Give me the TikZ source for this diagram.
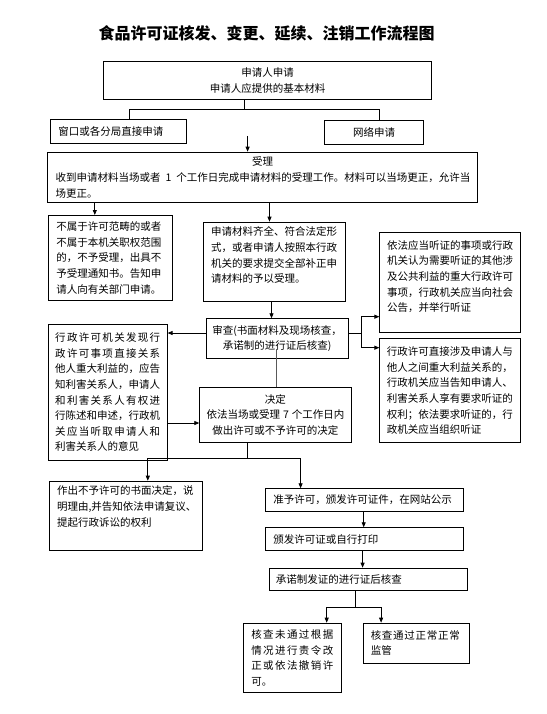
\documentclass[tikz,border=0pt]{standalone}
\usepackage{fontspec}
\setmainfont{Noto Sans CJK SC}
\usetikzlibrary{arrows.meta}
\newcommand\bodyfs{\fontsize{10.5pt}{15.6pt}\selectfont}
\makeatletter
\newcommand\spr[2]{\makebox[#1][s]{\spr@a#2\relax}}
\def\spr@a#1{#1\spr@b}
\def\spr@b#1{\ifx\relax#1\else\hfil#1\expandafter\spr@b\fi}
\makeatother
\begin{document}
\begin{tikzpicture}[x=1pt,y=-1pt,
  box/.style={draw, line width=0.9pt, anchor=north west, inner ysep=0pt, font=\bodyfs},
  txt/.style={anchor=north west, inner sep=0pt, font=\bodyfs, align=left},
  conn/.style={line width=0.8pt},
  arr/.style={conn, -{Triangle[length=5pt,width=4pt]}}]
\useasboundingbox (0,0) rectangle (546,714);
\fill[white] (0,0) rectangle (546,714);

\node[font=\fontsize{16pt}{18pt}\selectfont\bfseries, inner sep=0pt] (title) at (266.7,33.3) {食品许可证核发、变更、延续、注销工作流程图};

\node[box, text width=312.3pt, inner xsep=8pt, minimum height=38.6pt, align=center] (b1) at (103,60.7) {申请人申请\\申请人应提供的基本材料};
\node[box, text width=119.5pt, inner xsep=8pt, minimum height=24pt, align=left] (bwin) at (50,119.3) {窗口或各分局直接申请};
\node[box, text width=82.7pt, inner xsep=8pt, minimum height=23.7pt, align=center] (bnet) at (324.3,120.3) {网络申请};
\node[box, text width=413.9pt, inner xsep=8pt, minimum height=50.6pt, align=left] (bsl) at (47.1,151.7) {{\centering 受理\par}收到申请材料当场或者\hspace{5pt}1\hspace{5pt}个工作日完成申请材料的受理工作。材料可以当场更正，允许当\\场更正。};

\node[box, text width=107.7pt, inner xsep=8pt, minimum height=85pt, align=left] (bno) at (47.8,215) {不属于许可范畴的或者\\不属于本机关职权范围\\的，不予受理，出具不\\予受理通知书。告知申\\请人向有关部门申请。};

\node[box, minimum width=141.6pt, minimum height=79.3pt] (bok) at (202.9,221.7) {};
\node[txt, text width=126pt] (tok) at (210.9,224.8) {\strut 申请材料齐全、符合法定形\\式，或者申请人按照本行政\\机关的要求提交全部补正申\\请材料的予以受理。};

\node[box, minimum width=140.1pt, minimum height=100pt] (bh1) at (379.4,232.3) {};
\node[txt, text width=126pt] (th1) at (387,238.1) {\strut 依法应当听证的事项或行政\\机关认为需要听证的其他涉\\及公共利益的重大行政许可\\事项，行政机关应当向社会\\公告，并举行听证};

\node[box, text width=130pt, inner xsep=5.9pt, minimum height=39.7pt, align=center] (bsc) at (205.7,318.3) {审查(书面材料及现场核查，\\承诺制的进行证后核查)};

\node[box, text width=126pt, inner xsep=7.05pt, minimum height=104pt, align=left] (bh2) at (379.4,338.3) {行政许可直接涉及申请人与\\他人之间重大利益关系的，\\行政机关应当告知申请人、\\利害关系人享有要求听证的\\权利；依法要求听证的，行\\政机关应当组织听证};

\node[box, text width=105pt, inner xsep=6.95pt, minimum height=135.2pt, align=left] (bint) at (47.8,324.3) {\spr{105pt}{行政许可机关发现行}\\\spr{105pt}{政许可事项直接关系}\\\spr{105pt}{他人重大利益的，应告}\\\spr{105pt}{知利害关系人，申请人}\\\spr{105pt}{和利害关系人有权进}\\\spr{105pt}{行陈述和申述，行政机}\\\spr{105pt}{关应当听取申请人和}\\利害关系人的意见};

\node[box, text width=140pt, inner xsep=5.7pt, minimum height=54.4pt, align=center] (bdec) at (199.3,387.3) {决定\\依法当场或受理\hspace{3pt}7\hspace{3pt}个工作日内\\做出许可或不予许可的决定};

\node[box, minimum width=153pt, minimum height=69.3pt] (brej) at (48.5,480.7) {};
\node[txt, text width=140pt] (trej) at (56.8,483.8) {\strut 作出不予许可的书面决定，说\\明理由,并告知依法申请复议、\\提起行政诉讼的权利};

\node[box, text width=182pt, inner xsep=8pt, minimum height=22.7pt, align=left] (bgrant) at (265,488.3) {准予许可，颁发许可证件，在网站公示};
\node[box, text width=182pt, inner xsep=8pt, minimum height=22.7pt, align=left] (bissue) at (265,527.3) {颁发许可证或自行打印};
\node[box, text width=184.7pt, inner xsep=6.3pt, minimum height=22.3pt, align=left] (bpost) at (269.2,567.7) {承诺制发证的进行证后核查};
\node[box, text width=82pt, inner xsep=7.85pt, minimum height=69.6pt, align=left] (bfail) at (243,622.7) {\spr{82pt}{核查未通过根据}\\\spr{82pt}{情况进行责令改}\\\spr{82pt}{正或依法撤销许}\\可。};
\node[box, text width=91.4pt, inner xsep=7.3pt, minimum height=40pt, align=left] (bpass) at (363,622.7) {\spr{89pt}{核查通过正常正常}\\监管};

% connectors
\path ([xshift=-23.6pt]b1.south) coordinate (c1);
\draw[conn] (c1) -- ++(0,9) coordinate (j1);
\path ([xshift=79pt]bwin.north west) coordinate (c1a);
\path ([xshift=55pt]bnet.north west) coordinate (c1b);
\draw[conn] (c1a) |- (j1) -| (c1b);

\coordinate (a0) at (247.6,136);
\draw[arr] (a0) -- (a0 |- bsl.north);

\path ([xshift=47pt]bno.north west) coordinate (c3);
\draw[arr] (c3 |- bsl.south) -- (c3);
\path ([xshift=66.6pt]bok.north west) coordinate (c4);
\draw[arr] (c4 |- bsl.south) -- (c4);
\path ([xshift=68.6pt]bok.south west) coordinate (c5);
\draw[arr] (c5) -- (c5 |- bsc.north);
\path ([yshift=-14.7pt]bsc.north west) coordinate (c6);
\draw[arr] (c6) -- (c6 -| bint.east);
\path ([yshift=-14.7pt]bsc.north east) coordinate (c7);
\draw[conn] (c7) -- ++(13.2,0) coordinate (j7);
\path ([yshift=-84.4pt]bh1.north west) coordinate (c7a);
\path ([yshift=-9.4pt]bh2.north west) coordinate (c7b);
\draw[arr] (j7) |- (c7a);
\draw[arr] (j7) |- (c7b);
\path ([xshift=77.4pt]bdec.north west) coordinate (c8);
\path (c8 |- bsc.south) coordinate (c8b);
\draw[conn, black!65] (c8) -- ([yshift=10pt]c8b);
\path ([yshift=-35.7pt]bdec.north west) coordinate (c9);
\draw[arr] (c9 -| bint.east) -- (c9);
\path ([xshift=47.6pt]bdec.south west) coordinate (c10);
\draw[conn] (c10) -- ++(0,15.3) coordinate (j10);
\path ([xshift=99.3pt]brej.north west) coordinate (c10a);
\path ([xshift=35.6pt]bgrant.north west) coordinate (c10b);
\draw[arr] (j10) -| (c10a);
\draw[arr] (j10) -| (c10b);
\path ([xshift=98.7pt]bgrant.south west) coordinate (c11);
\draw[arr] (c11) -- (c11 |- bissue.north);
\path ([xshift=97.6pt]bissue.south west) coordinate (c12);
\draw[arr] (c12) -- (c12 |- bpost.north);
\path ([xshift=86.4pt]bpost.south west) coordinate (c13);
\draw[conn] (c13) -- ++(0,16.7) coordinate (j13);
\path ([xshift=83.7pt]bfail.north west) coordinate (c13a);
\path ([xshift=18.1pt]bpass.north west) coordinate (c13b);
\draw[arr] (j13) -| (c13a);
\draw[arr] (j13) -| (c13b);
\end{tikzpicture}
\end{document}
